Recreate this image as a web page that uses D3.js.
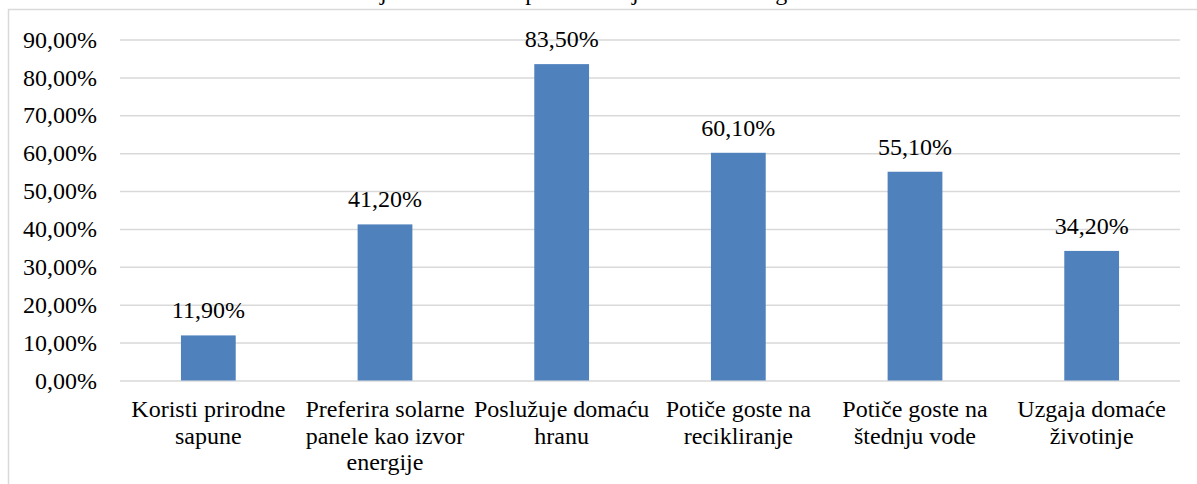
<!DOCTYPE html>
<html>
<head>
<meta charset="utf-8">
<script src="https://cdn.jsdelivr.net/npm/d3@7"></script>
<style>
  body { margin: 0; background: #fff; }
  svg { display: block; }
</style>
</head>
<body>
<svg id="chart" width="1197" height="484"></svg>
<script>
(() => {

// chart data
const categories = [
    'Koristi prirodne sapune',
    'Preferira solarne panele kao izvor energije',
    'Poslužuje domaću hranu',
    'Potiče goste na recikliranje',
    'Potiče goste na štednju vode',
    'Uzgaja domaće životinje'
];
const values = [11.9, 41.2, 83.5, 60.1, 55.1, 34.2];
const y_ticks = [0, 10, 20, 30, 40, 50, 60, 70, 80, 90];
const title_text = 'Primjena ekoloških praksi u objektima seoskog turizma';

// chart parameters
const font_size = 24;
const font_family = '"Liberation Serif"';
const bar_color = '#4f81bd';
const grid_color = '#d9d9d9';

const min_x_value = 120;
const max_x_value = 1180;
const min_y_value = 39.5;
const max_y_value = 380.5;

let svg = d3.select('#chart');

// every text gets the serif face inline
let serif = (sel) => sel
    .style('font-family', font_family)
    .style('font-size', font_size + 'px')
    .attr('fill', '#000');

// chart frame (top and left edges visible)
svg.append('path')
    .attr('d', 'M8.5,484 L8.5,9.5 L1197,9.5')
    .attr('fill', 'none')
    .attr('stroke', grid_color)
    .attr('stroke-width', 1.5);

// title, cut off at the top like the reference
svg.append('text')
    .attr('x', 600)
    .attr('y', -0.5)
    .attr('text-anchor', 'middle')
    .call(serif)
    .text(title_text);

// scales
let x_scale = d3.scaleBand()
    .domain(categories)
    .range([min_x_value, max_x_value])
    .paddingInner(0.69)
    .paddingOuter(0.345);

let y_scale = d3.scaleLinear()
    .domain([0, 90])
    .range([max_y_value, min_y_value]);

let fmt = (v) => v.toFixed(2).replace('.', ',') + '%';

// gridlines + y labels
let y_axis = d3.axisLeft(y_scale)
    .tickValues(y_ticks)
    .tickSize(-(max_x_value - min_x_value))
    .tickPadding(23)
    .tickFormat(fmt);

let gy = svg.append('g')
    .attr('transform', `translate(${min_x_value}, 0)`)
    .call(y_axis);
gy.select('.domain').remove();
gy.selectAll('.tick line')
    .attr('stroke', grid_color)
    .attr('stroke-width', 1.5);
gy.selectAll('.tick text').call(serif);

// bars
svg.append('g')
    .selectAll('rect')
    .data(values)
    .enter()
        .append('rect')
        .attr('x', (d, i) => x_scale(categories[i]))
        .attr('y', (d) => y_scale(d))
        .attr('width', x_scale.bandwidth())
        .attr('height', (d) => y_scale(0) - y_scale(d))
        .attr('fill', bar_color);

// value labels
svg.append('g')
    .selectAll('text')
    .data(values)
    .enter()
        .append('text')
        .attr('x', (d, i) => x_scale(categories[i]) + x_scale.bandwidth() / 2)
        .attr('y', (d) => y_scale(d) - 17)
        .attr('text-anchor', 'middle')
        .call(serif)
        .text((d) => fmt(d));

// category labels, wrapped to about the band step
let wrap_width = x_scale.step() + 8;
let cat_labels = svg.append('g')
    .selectAll('text')
    .data(categories)
    .enter()
        .append('text')
        .attr('x', (d) => x_scale(d) + x_scale.bandwidth() / 2)
        .attr('y', 417)
        .attr('text-anchor', 'middle')
        .call(serif);

cat_labels.each(function(d) {
    let text = d3.select(this);
    let cx = text.attr('x');
    let words = d.split(' ');
    let line = [];
    let tspan = text.append('tspan').attr('x', cx).attr('dy', 0);
    for (const w of words) {
        line.push(w);
        tspan.text(line.join(' '));
        if (tspan.node().getComputedTextLength() > wrap_width && line.length > 1) {
            line.pop();
            tspan.text(line.join(' '));
            line = [w];
            tspan = text.append('tspan').attr('x', cx).attr('dy', 26.5).text(w);
        }
    }
});

})();
</script>
</body>
</html>
